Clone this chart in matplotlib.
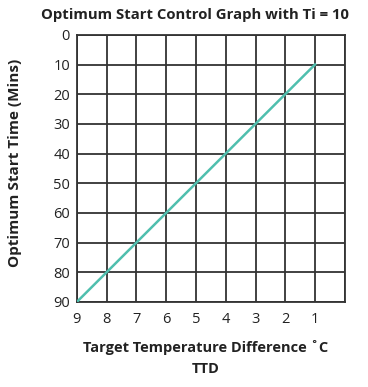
import matplotlib.pyplot as plt

plt.rcParams['font.family'] = ['Open Sans', 'DejaVu Sans']

# Values
ttd = [9, 8, 7, 6, 5, 4, 3, 2, 1]
start_time = [90, 80, 70, 60, 50, 40, 30, 20, 10]
x_ticks = [9, 8, 7, 6, 5, 4, 3, 2, 1]
y_ticks = [0, 10, 20, 30, 40, 50, 60, 70, 80, 90]

fig = plt.figure(figsize=(3.68, 3.87), dpi=100)
ax = fig.add_axes([0.209, 0.22, 0.728, 0.69])

ax.plot(ttd, start_time, color='#4fbfae', linewidth=1.8, zorder=3)

ax.set_xlim(9, 0)
ax.set_ylim(90, 0)
ax.set_xticks(range(0, 10))
ax.set_xticklabels([''] + [str(v) for v in range(1, 10)])
ax.set_yticks(y_ticks)
ax.tick_params(length=0, labelsize=10.5, colors='#222222')
ax.tick_params(axis='x', pad=7)
ax.tick_params(axis='y', pad=5)
ax.grid(True, color='#333333', linewidth=1.3)
for s in ax.spines.values():
    s.set_color('#333333')
    s.set_linewidth(1.3)

fig.text(0.53, 0.962, 'Optimum Start Control Graph with Ti = 10',
         ha='center', va='center', fontsize=10.7, fontweight='bold', color='#222222')
fig.text(0.56, 0.103, 'Target Temperature Difference ˚C',
         ha='center', va='center', fontsize=10.5, fontweight='bold', color='#222222')
fig.text(0.56, 0.046, 'TTD',
         ha='center', va='center', fontsize=10.5, fontweight='bold', color='#222222')
fig.text(0.041, 0.58, 'Optimum Start Time (Mins)', rotation=90,
         ha='center', va='center', fontsize=11, fontweight='bold', color='#222222')

fig.savefig('out.png', dpi=100)
